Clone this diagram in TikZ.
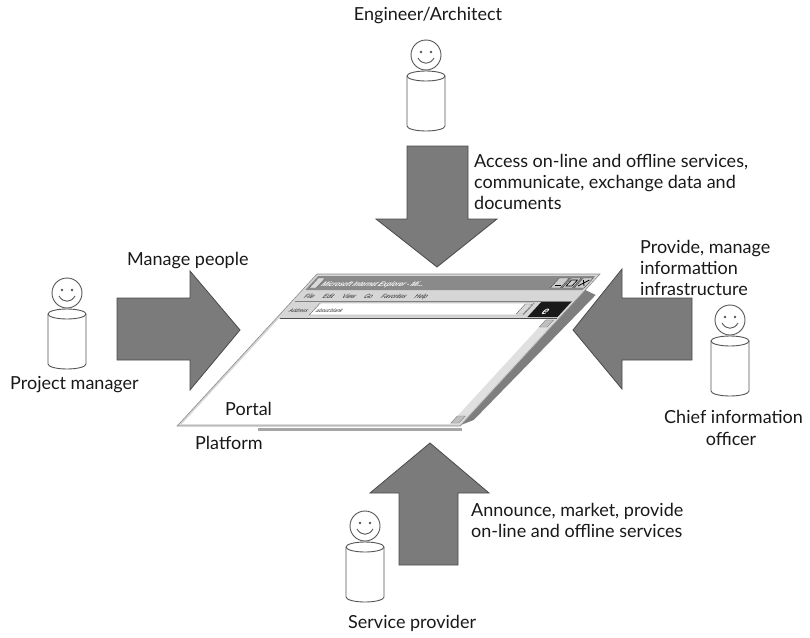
\documentclass[tikz,border=0pt]{standalone}
\usepackage{fontspec}
\setmainfont{Lato}
\newfontfamily\uifont{Liberation Sans}

\definecolor{arrowgray}{HTML}{7B7B7B}
\definecolor{arrowedge}{HTML}{4A4A4A}
\definecolor{framegray}{HTML}{D6D6D6}
\definecolor{titlegray}{HTML}{8A8A8A}
\definecolor{sidegray}{HTML}{7E7E7E}
\definecolor{figline}{HTML}{555555}

\tikzset{
  blockarrow/.style={fill=arrowgray, draw=arrowedge, line width=0.8pt, line join=miter},
  lbl/.style={font=\fontsize{18}{21}\selectfont, inner sep=0pt, anchor=base west, text=black!90},
  uitext/.style={font=\uifont\fontsize{6}{6}\selectfont, inner sep=0pt, anchor=base west, transform shape},
  person/.pic={
    \draw[figline, line width=0.9pt, fill=white] (0,0) circle[radius=15];
    \fill[figline] (-5,-3) circle[radius=1.4] (5,-3) circle[radius=1.4];
    \draw[figline, line width=0.9pt] (-8,3) .. controls (-4,10) and (4,10) .. (8,3);
    \draw[figline, line width=0.9pt, fill=white]
      (-19,21) -- (-19,71) arc[start angle=180, end angle=0, x radius=19, y radius=5]
      -- (19,21) arc[start angle=0, end angle=-180, x radius=19, y radius=5] -- cycle;
    \draw[figline, line width=0.9pt]
      (-19,21) arc[start angle=180, end angle=0, x radius=19, y radius=5];
  },
}

\begin{document}
\begin{tikzpicture}[x=1pt, y=-1pt]
\useasboundingbox (0,0) rectangle (810,637);
\fill[white] (0,0) rectangle (810,637);

% ---- people ----
\pic (eng) at (426,55) {person};
\pic (pm) at (67,293) {person};
\pic (cio) at (730,320) {person};
\pic (sp) at (365,526) {person};

% ---- block arrows ----
\draw[blockarrow] (407,146) -- (468,146) -- (468,219) -- (497,219) -- (437,267)
  -- (376,219) -- (407,219) -- cycle;
\draw[blockarrow] (117,298) -- (190,298) -- (190,271) -- (240,330) -- (190,390)
  -- (190,360) -- (117,360) -- cycle;
\draw[blockarrow] (692,298) -- (622,298) -- (622,269) -- (573,330) -- (622,389)
  -- (622,360) -- (692,360) -- cycle;
\draw[blockarrow] (399,565) -- (458,565) -- (458,493) -- (489,493) -- (430,443)
  -- (370,493) -- (399,493) -- cycle;

% ---- platform strip under the portal ----
\draw[black!35, line width=3pt] (258,429.5) -- (462,429.5);

% ---- portal: browser window in slanted perspective ----
\begin{scope}[shift={(317,274)}, xslant=0.92]
  % side thickness
  \fill[sidegray] (283,16) -- (298,21) -- (291,146) -- (281,152) -- cycle;
  % frame
  \draw[black!45, fill=framegray, line width=0.6pt] (0,0) rectangle (283,152);
  % title bar
  \fill[titlegray] (3,2) rectangle (280,16);
  \draw[black!60, fill=black!15] (5,4) rectangle (12,14);
  \node[uitext, text=white, font=\uifont\bfseries\itshape\fontsize{6.5}{6.5}\selectfont]
    (title) at (15,12.5) {Microsoft Internet Explorer - Mi...};
  \foreach \bx in {246,258,270}{
    \draw[black!70, fill=black!20] (\bx,4) rectangle (\bx+10,14);
  }
  \draw[black, line width=0.8pt] (248,11) -- (254,11);
  \draw[black, line width=0.6pt] (260,6) rectangle (266,12);
  \draw[black, line width=0.8pt] (272,6) -- (278,12) (272,12) -- (278,6);
  % menu bar
  \node[uitext, text=black!85] (menu) at (8,24)
    {File\hspace{9pt}Edit\hspace{9pt}View\hspace{9pt}Go\hspace{9pt}Favorites\hspace{9pt}Help};
  % address bar
  \draw[black!50] (3,27) -- (280,27);
  \node[uitext, text=black!85, font=\uifont\fontsize{5}{5}\selectfont] (addr) at (6,38) {Address};
  \draw[black!60, fill=white] (30,29) rectangle (244,41);
  \node[uitext, text=black!85, font=\uifont\fontsize{5}{5}\selectfont] (url) at (33,38) {about:blank};
  \draw[black!60, fill=black!15] (236,30) rectangle (243,40);
  \fill[black!90] (250,28) rectangle (280,43);
  \node[uitext, text=white, font=\uifont\bfseries\fontsize{10}{10}\selectfont] (logo) at (260,40) {e};
  \draw[black!70, line width=1pt] (3,44) -- (280,44);
  % page area and scroll bar
  \fill[white] (3,45) rectangle (280,150);
  \fill[black!12] (271,45) rectangle (280,150);
  \draw[black!50, fill=black!25] (271,46) rectangle (279,53);
  \draw[black!50, fill=black!25] (271,142) rectangle (279,149);
\end{scope}

% ---- labels ----
\node[lbl, anchor=base] (tEng) at (428,20) {Engineer/Architect};
\node[lbl] (tAcc1) at (474,167) {Access on-line and offline services,};
\node[lbl] (tAcc2) at (474,188) {communicate, exchange data and};
\node[lbl] (tAcc3) at (474,209) {documents};
\node[lbl] (tMan) at (127,265) {Manage people};
\node[lbl] (tPM) at (10,389) {Project manager};
\node[lbl] (tPro1) at (640,253) {Provide, manage};
\node[lbl] (tPro2) at (640,274) {informattion};
\node[lbl] (tPro3) at (640,295) {infrastructure};
\node[lbl] (tCio1) at (664,423) {Chief information};
\node[lbl, anchor=base] (tCio2) at (731,445) {officer};
\node[lbl] (tPortal) at (225,415) {Portal};
\node[lbl] (tPlat) at (195,449) {Platform};
\node[lbl] (tAnn1) at (471,516) {Announce, market, provide};
\node[lbl] (tAnn2) at (471,537) {on-line and offline services};
\node[lbl] (tSP) at (348,628) {Service provider};
\end{tikzpicture}
\end{document}
